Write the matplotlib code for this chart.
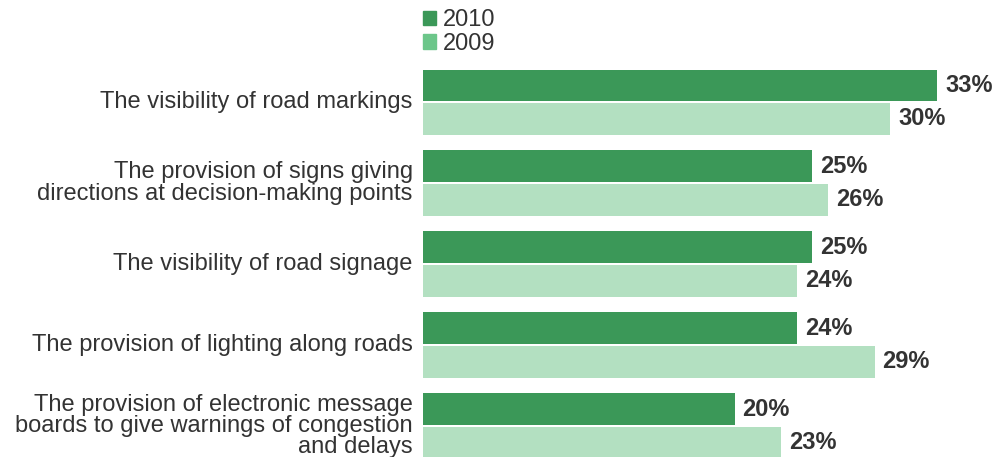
import matplotlib.pyplot as plt
from matplotlib.patches import Patch
import numpy as np

plt.rcParams['font.family'] = ['Liberation Sans', 'DejaVu Sans']

# ---------- data
categories = [
    "The visibility of road markings",
    "The provision of signs giving\ndirections at decision-making points",
    "The visibility of road signage",
    "The provision of lighting along roads",
    "The provision of electronic message\nboards to give warnings of congestion\nand delays",
]
vals_2010 = [33, 25, 25, 24, 20]
vals_2009 = [30, 26, 24, 29, 23]

dark = '#3b9858'
light = '#b3e0c1'
legend_light = '#6cc68a'
txt = '#333333'
fs = 17

# ---------- figure
fig = plt.figure(figsize=(9.95, 4.57), dpi=100)
ax = fig.add_axes([423 / 995, 0, 572 / 995, 387 / 457])

y = np.arange(len(categories))
h = 0.395
off = 0.204
ax.barh(y - off, vals_2010, height=h, color=dark)
ax.barh(y + off, vals_2009, height=h, color=light)

for i in range(len(categories)):
    ax.text(vals_2010[i] + 0.5, y[i] - off, "%d%%" % vals_2010[i],
            va='center', ha='left', fontsize=fs, fontweight='bold', color=txt)
    ax.text(vals_2009[i] + 0.5, y[i] + off, "%d%%" % vals_2009[i],
            va='center', ha='left', fontsize=fs, fontweight='bold', color=txt)
    ax.text(-0.65, y[i], categories[i], ha='right', va='center',
            fontsize=fs, color=txt, linespacing=0.95)

ax.set_xlim(0, 572 / 15.58)
ax.set_ylim(4.383, -0.395)
ax.axis('off')

handles = [Patch(color=dark, label='2010'), Patch(color=legend_light, label='2009')]
fig.legend(handles=handles, loc='upper left', bbox_to_anchor=(423 / 995, 1 - 9 / 457),
           frameon=False, fontsize=fs, handlelength=0.55, handleheight=0.55,
           handletextpad=0.3, labelspacing=0.08, borderpad=0, borderaxespad=0,
           labelcolor=txt)

plt.savefig('out.png', dpi=100)
